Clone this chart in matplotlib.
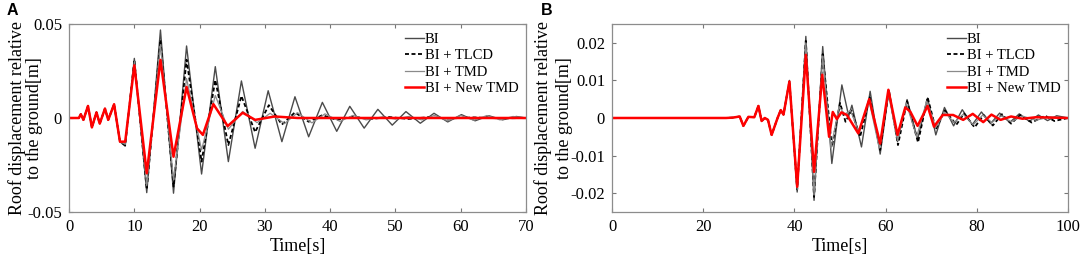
import matplotlib
matplotlib.use("Agg")
import matplotlib.pyplot as plt

plt.rcParams['font.family'] = ['Liberation Serif', 'DejaVu Serif']

SERIES_NAMES = ["BI", "BI + TLCD", "BI + TMD", "BI + New TMD"]
YLABEL_LINES = ["Roof displacement relative", "to the ground[m]"]

# ---- panel A : peaks / troughs ----
A_T_EARLY = [0, 1.5, 1.8, 2.2, 2.9, 3.5, 4.2, 4.7, 5.5, 6.0, 6.9, 7.8]
A_V_EARLY = [0, 0, 0.002, -0.001, 0.0064, -0.005, 0.003, -0.003, 0.005, -0.001, 0.0073, -0.0126]

A_T_BI = [8.6, 10.0, 11.9, 14.0, 16.0, 18.0, 20.3, 22.4, 24.4, 26.4, 28.5, 30.5, 32.6, 34.6, 36.7,
          38.8, 41.0, 43.0, 45.2, 47.3, 49.5, 51.6, 53.8, 55.9, 58.0, 60.1, 62.2, 64.3, 66.4, 68.5, 70]
A_V_BI = [-0.015, 0.0317, -0.0397, 0.0468, -0.0400, 0.0383, -0.0298, 0.0273, -0.0232, 0.0197, -0.0161,
          0.0145, -0.0126, 0.0113, -0.0100, 0.0083, -0.0071, 0.0062, -0.0054, 0.0046, -0.0038, 0.0034,
          -0.0028, 0.0025, -0.0021, 0.0018, -0.0015, 0.0012, -0.0010, 0.0008, 0.0]

A_T_TLCD = [8.6, 10.0, 11.9, 14.0, 16.0, 18.0, 20.3, 22.4, 24.4, 26.4, 28.5, 30.6, 32.6, 34.6, 36.7,
            38.8, 41.0, 43.5, 46, 49, 52, 55, 58, 62, 66, 70]
A_V_TLCD = [-0.0145, 0.031, -0.038, 0.0415, -0.0365, 0.031, -0.0232, 0.0202, -0.0144, 0.0117, -0.0075,
            0.0068, -0.0035, 0.003, -0.002, 0.0015, -0.001, 0.0008, -0.0006, 0.0005, -0.0005, 0.0004,
            -0.0003, 0.0003, -0.0002, 0.0]

A_T_TMD = [8.6, 10.0, 11.9, 14.0, 16.0, 18.0, 20.3, 22.4, 24.4, 26.6, 28.8, 30.8, 33.0, 35.0, 37.2,
           39.2, 41.5, 43.5, 45.5, 48, 50, 52, 54, 56, 58, 60, 62, 64, 66, 68, 70]
A_V_TMD = [-0.014, 0.030, -0.036, 0.039, -0.033, 0.021, -0.017, 0.012, -0.006, 0.0035, -0.0025, 0.0025,
           -0.003, 0.0028, -0.0026, 0.0022, -0.0018, 0.0014, -0.001, 0.0006, -0.0006, 0.0008, -0.001,
           0.0014, -0.0015, 0.0013, -0.0012, 0.0013, -0.001, 0.0008, 0.0]

A_T_NEW = [8.6, 10.0, 11.9, 14.0, 16.0, 18.0, 19.6, 20.5, 22.1, 24.3, 26.6, 28.5, 31.5, 35.0, 70]
A_V_NEW = [-0.0126, 0.028, -0.0294, 0.0309, -0.0206, 0.0165, -0.0055, -0.009, 0.0074, -0.0043, 0.0028,
           -0.001, 0.0008, 0.0, 0.0]

# ---- panel B ----
B_T_EARLY = [0, 25.0, 26.5, 28.0, 28.8, 29.9, 31.2, 32.1, 32.8, 33.5, 34.2, 35.0, 36.3, 37.0, 37.6]
B_V_EARLY = [0, 0, 0.0001, 0.0004, -0.0021, 0.0003, 0.0002, 0.0032, -0.0008, 0.0, -0.0005, -0.0045,
             0.0, 0.0021, 0.0009]

B_T_BI = [38.9, 40.6, 42.5, 44.3, 46.2, 48.2, 50.4, 51.9, 52.6, 54.7, 56.6, 58.8, 60.7, 62.6, 64.7,
          67.0, 69.2, 71.0, 72.9, 74.9, 76.8, 79.0, 81.0, 83.0, 85.0, 87.2, 89.3, 91.5, 93.5, 95.5, 97.5, 100]
B_V_BI = [0.0100, -0.0197, 0.0217, -0.0219, 0.0190, -0.0121, 0.0088, 0.0005, 0.0034, -0.0077, 0.0071,
          -0.0096, 0.0071, -0.0063, 0.0049, -0.0057, 0.0053, -0.0045, 0.0028, -0.0021, 0.0022, -0.0018,
          0.0016, -0.0015, 0.0013, -0.0012, 0.0011, -0.0009, 0.0008, -0.0007, 0.0006, 0.0]

B_T_TLCD = [38.9, 40.6, 42.5, 44.3, 46.2, 48.2, 50.0, 51.2, 52.5, 54.4, 56.5, 58.8, 60.7, 62.7, 64.7,
            67.1, 69.2, 71.0, 73.0, 75.5, 77.2, 79.5, 81.5, 83.5, 85.5, 87.5, 89.5, 92.0, 95.0, 97.0, 100]
B_V_TLCD = [0.0098, -0.019, 0.0205, -0.021, 0.017, -0.0077, 0.004, -0.001, 0.002, -0.005, 0.0055,
            -0.0085, 0.0075, -0.0072, 0.0045, -0.0065, 0.0055, -0.003, 0.002, -0.0018, 0.0012, -0.0025,
            0.0008, -0.002, 0.001, -0.0015, 0.0008, -0.0012, 0.0006, -0.0008, 0.0]

B_T_TMD = [38.9, 40.6, 42.5, 44.3, 46.2, 48.0, 49.8, 51.0, 52.3, 54.2, 56.3, 58.6, 60.6, 62.6, 64.5,
           66.8, 69.0, 71.0, 73.0, 75.0, 77.0, 79.2, 81.3, 83.3, 85.3, 87.5, 90, 93, 96, 100]
B_V_TMD = [0.0097, -0.019, 0.020, -0.0205, 0.0165, -0.008, 0.003, 0.001, 0.002, -0.004, 0.005, -0.008,
           0.0065, -0.006, 0.004, -0.005, 0.0045, -0.0025, 0.0015, -0.0012, 0.001, -0.0018, 0.0008,
           -0.0012, 0.0006, -0.001, 0.0005, -0.0006, 0.0003, 0.0]

B_T_NEW = [38.9, 40.6, 42.5, 44.3, 46.1, 47.6, 48.4, 49.3, 50.3, 51.5, 54.0, 56.4, 58.8, 60.6, 62.6,
           64.3, 65.4, 67.0, 69.2, 70.6, 72.5, 74.8, 77.0, 79.1, 81.4, 83.2, 85.2, 87.5, 90, 93, 100]
B_V_NEW = [0.0097, -0.0183, 0.0168, -0.0143, 0.0115, -0.005, 0.0016, -0.0003, 0.0015, 0.0008, -0.0041,
           0.005, -0.0068, 0.0075, -0.0045, 0.0028, 0.0017, -0.0021, 0.0032, -0.0023, 0.0008, 0.0008,
           -0.0005, 0.0011, -0.0011, 0.0009, -0.0005, 0.0004, -0.0002, 0.0002, 0]

A_XTICKS = [0, 10, 20, 30, 40, 50, 60, 70]
A_YTICKS = [-0.05, 0, 0.05]
A_YTICKLABELS = ["-0.05", "0", "0.05"]
B_XTICKS = [0, 20, 40, 60, 80, 100]
B_YTICKS = [-0.02, -0.01, 0, 0.01, 0.02]
B_YTICKLABELS = ["-0.02", "-0.01", "0", "0.01", "0.02"]

STYLES = [
    dict(color="#4a4a4a", lw=1.0, ls="-"),
    dict(color="black", lw=1.3, ls=(0, (2.2, 1.4))),
    dict(color="#8a8a8a", lw=0.9, ls="-"),
    dict(color="#ff0000", lw=1.8, ls="-"),
]

fig = plt.figure(figsize=(10.84, 2.59), dpi=100)
axA = fig.add_axes([0.0637, 0.1815, 0.4216, 0.7259])
axB = fig.add_axes([0.5646, 0.1815, 0.4207, 0.7259])


def draw(ax, t_early, v_early, runs, xlim, ylim, xticks, yticks, yticklabels, label_xs):
    for (t, v), name, st in zip(runs, SERIES_NAMES, STYLES):
        ax.plot(t_early + t, v_early + v, label=name, **st)
    ax.set_xlim(*xlim)
    ax.set_ylim(*ylim)
    ax.set_xticks(xticks)
    ax.set_yticks(yticks)
    ax.set_yticklabels(yticklabels)
    ax.tick_params(direction="in", top=True, right=True, labelsize=12, length=3,
                   color="#777777", pad=5)
    for s in ax.spines.values():
        s.set_color("#8c8c8c")
        s.set_linewidth(0.9)
    ax.set_xlabel("Time[s]", fontsize=13, labelpad=2)
    # two-line y label, one text per line
    for line, lx in zip(YLABEL_LINES, label_xs):
        ax.text(lx, 0.5, line, transform=ax.transAxes, rotation=90, fontsize=13,
                ha="right", va="center")
    ax.legend(loc="upper right", bbox_to_anchor=(1.0, 0.99), frameon=False, fontsize=10.5,
              handlelength=1.25, handletextpad=0.1, labelspacing=0.2, borderaxespad=0.1)


draw(axA, A_T_EARLY, A_V_EARLY,
     [(A_T_BI, A_V_BI), (A_T_TLCD, A_V_TLCD), (A_T_TMD, A_V_TMD), (A_T_NEW, A_V_NEW)],
     (0, 70), (-0.05, 0.05), A_XTICKS, A_YTICKS, A_YTICKLABELS, (-0.094, -0.057))
draw(axB, B_T_EARLY, B_V_EARLY,
     [(B_T_BI, B_V_BI), (B_T_TLCD, B_V_TLCD), (B_T_TMD, B_V_TMD), (B_T_NEW, B_V_NEW)],
     (0, 100), (-0.025, 0.025), B_XTICKS, B_YTICKS, B_YTICKLABELS, (-0.132, -0.0855))

fig.text(7 / 1084, 1 - 3 / 259, "A", fontsize=11.5, fontweight="bold",
         family="Liberation Sans", va="top", ha="left")
fig.text(541 / 1084, 1 - 3 / 259, "B", fontsize=11.5, fontweight="bold",
         family="Liberation Sans", va="top", ha="left")

fig.savefig("out.png", dpi=100)
